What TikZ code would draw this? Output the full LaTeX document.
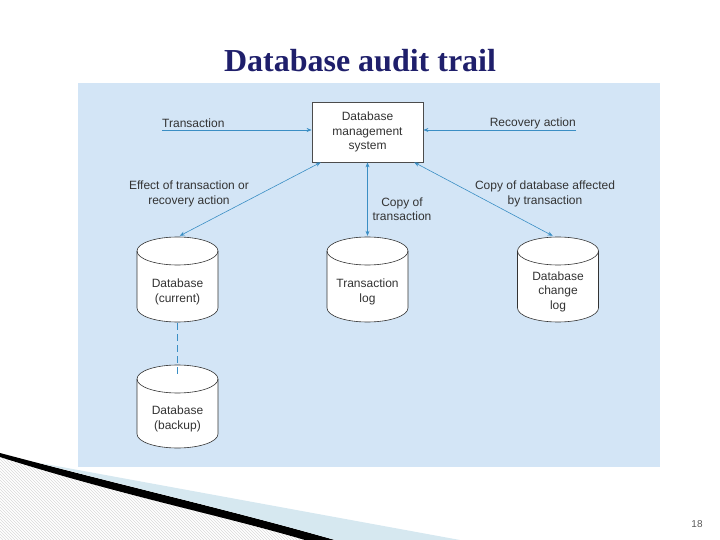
\documentclass[tikz,border=0pt]{standalone}
\usepackage{fontspec}
\setmainfont{Liberation Serif}
\setsansfont{Liberation Sans}
\usetikzlibrary{arrows.meta,patterns,shadows,calc}
\definecolor{fond}{HTML}{D3E5F6}
\definecolor{bleu}{HTML}{3A8EC4}
\definecolor{titre}{HTML}{1F1F6B}
\definecolor{texte}{HTML}{333333}
\definecolor{vague}{HTML}{D6E8F0}
\newcommand\haut{\rule{0pt}{33pt}}
\tikzset{
    fleche/.style={bleu,line width=0.6pt,-{Stealth[length=5pt,width=4pt]}},
    lien/.style={bleu,line width=0.6pt,{Stealth[length=5pt,width=4pt]}-{Stealth[length=5pt,width=4pt]}},
    etiq/.style={align=center,inner sep=0pt,text=texte,font=\sffamily\fontsize{12}{14.5}\selectfont},
    base/.style={minimum width=83pt,minimum height=87pt,inner sep=0pt,etiq,
        path picture={
            \draw[texte,line width=0.6pt,fill=white]
                ([xshift=1pt,yshift=-15pt]path picture bounding box.north west)
                arc[start angle=180,end angle=0,x radius=40.5pt,y radius=14pt]
                -- ([xshift=-1pt,yshift=15pt]path picture bounding box.south east)
                arc[start angle=0,end angle=-180,x radius=40.5pt,y radius=14pt] -- cycle;
            \draw[texte,line width=0.6pt]
                ([xshift=1pt,yshift=-15pt]path picture bounding box.north west)
                arc[start angle=180,end angle=360,x radius=40.5pt,y radius=14pt];
        }}
}

\begin{document}
\begin{tikzpicture}[x=1pt,y=-1pt]
    \useasboundingbox (0,0) rectangle (720,540);

    % Dessine le titre et le fond
    \node[font=\bfseries\fontsize{32}{38}\selectfont,text=titre] (titre) at (360,61) {Database audit trail};
    \fill[fond] (78,83) rectangle (660,467);

    % Dessine le SGBD
    \node[draw=gray!60!black,line width=0.8pt,fill=white,minimum width=111pt,minimum height=60pt,
        drop shadow={shadow xshift=1.2pt,shadow yshift=-1.2pt,fill=gray!70,opacity=1},
        etiq] (sgbd) at (367.5,132) {Database\\management\\system};

    % Dessine les bases
    \node[base] (courante) at (177.5,279.5) {\haut Database\\(current)};
    \node[base,minimum height=85pt] (secours) at (177.5,406.5) {\haut Database\\(backup)};
    \node[base] (journal) at (367.5,279.5) {\haut Transaction\\log};
    \node[base] (modifs) at (558,279.5) {\haut Database\\change\\log};

    % Dessine les flèches
    \coordinate (dtrans) at (162,130);
    \coordinate (drec) at (576,130);
    \node[etiq,anchor=west] (ltrans) at (162,123) {Transaction};
    \node[etiq,anchor=east] (lrec) at (576,123) {Recovery action};
    \draw[fleche] (dtrans) -- (dtrans -| sgbd.west);
    \draw[fleche] (drec) -- (drec -| sgbd.east);

    \draw[lien] (sgbd.213) -- (courante.87);
    \draw[lien] (sgbd.south) -- (journal.north);
    \draw[lien] (sgbd.-33) -- (modifs.97);
    \draw[bleu,line width=0.5pt,dash pattern=on 7pt off 4pt] (courante.south) -- ($(secours.north)+(0,14)$);

    \node[etiq] (leffet) at (189,194) {Effect of transaction or\\recovery action};
    \node[etiq] (lcopie) at (402,209) {Copy of\\transaction};
    \node[etiq] (laffecte) at (545,194) {Copy of database affected\\by transaction};

    % Dessine la vague
    \fill[pattern=north west lines,pattern color=gray!30] (0,457) .. controls (120,495) and (220,515) .. (305,540) -- (0,540) -- cycle;
    \fill[black] (0,453) .. controls (120,485) and (230,510) .. (335,540) -- (305,540)
        .. controls (220,515) and (120,495) .. (0,457) -- cycle;
    \fill[vague] (40,463) -- (460,540) -- (335,540) .. controls (230,510) and (130,487) .. (40,463) -- cycle;

    \node[font=\sffamily\fontsize{10}{12}\selectfont,text=gray!70!black] (page) at (697,524) {18};
\end{tikzpicture}
\end{document}
